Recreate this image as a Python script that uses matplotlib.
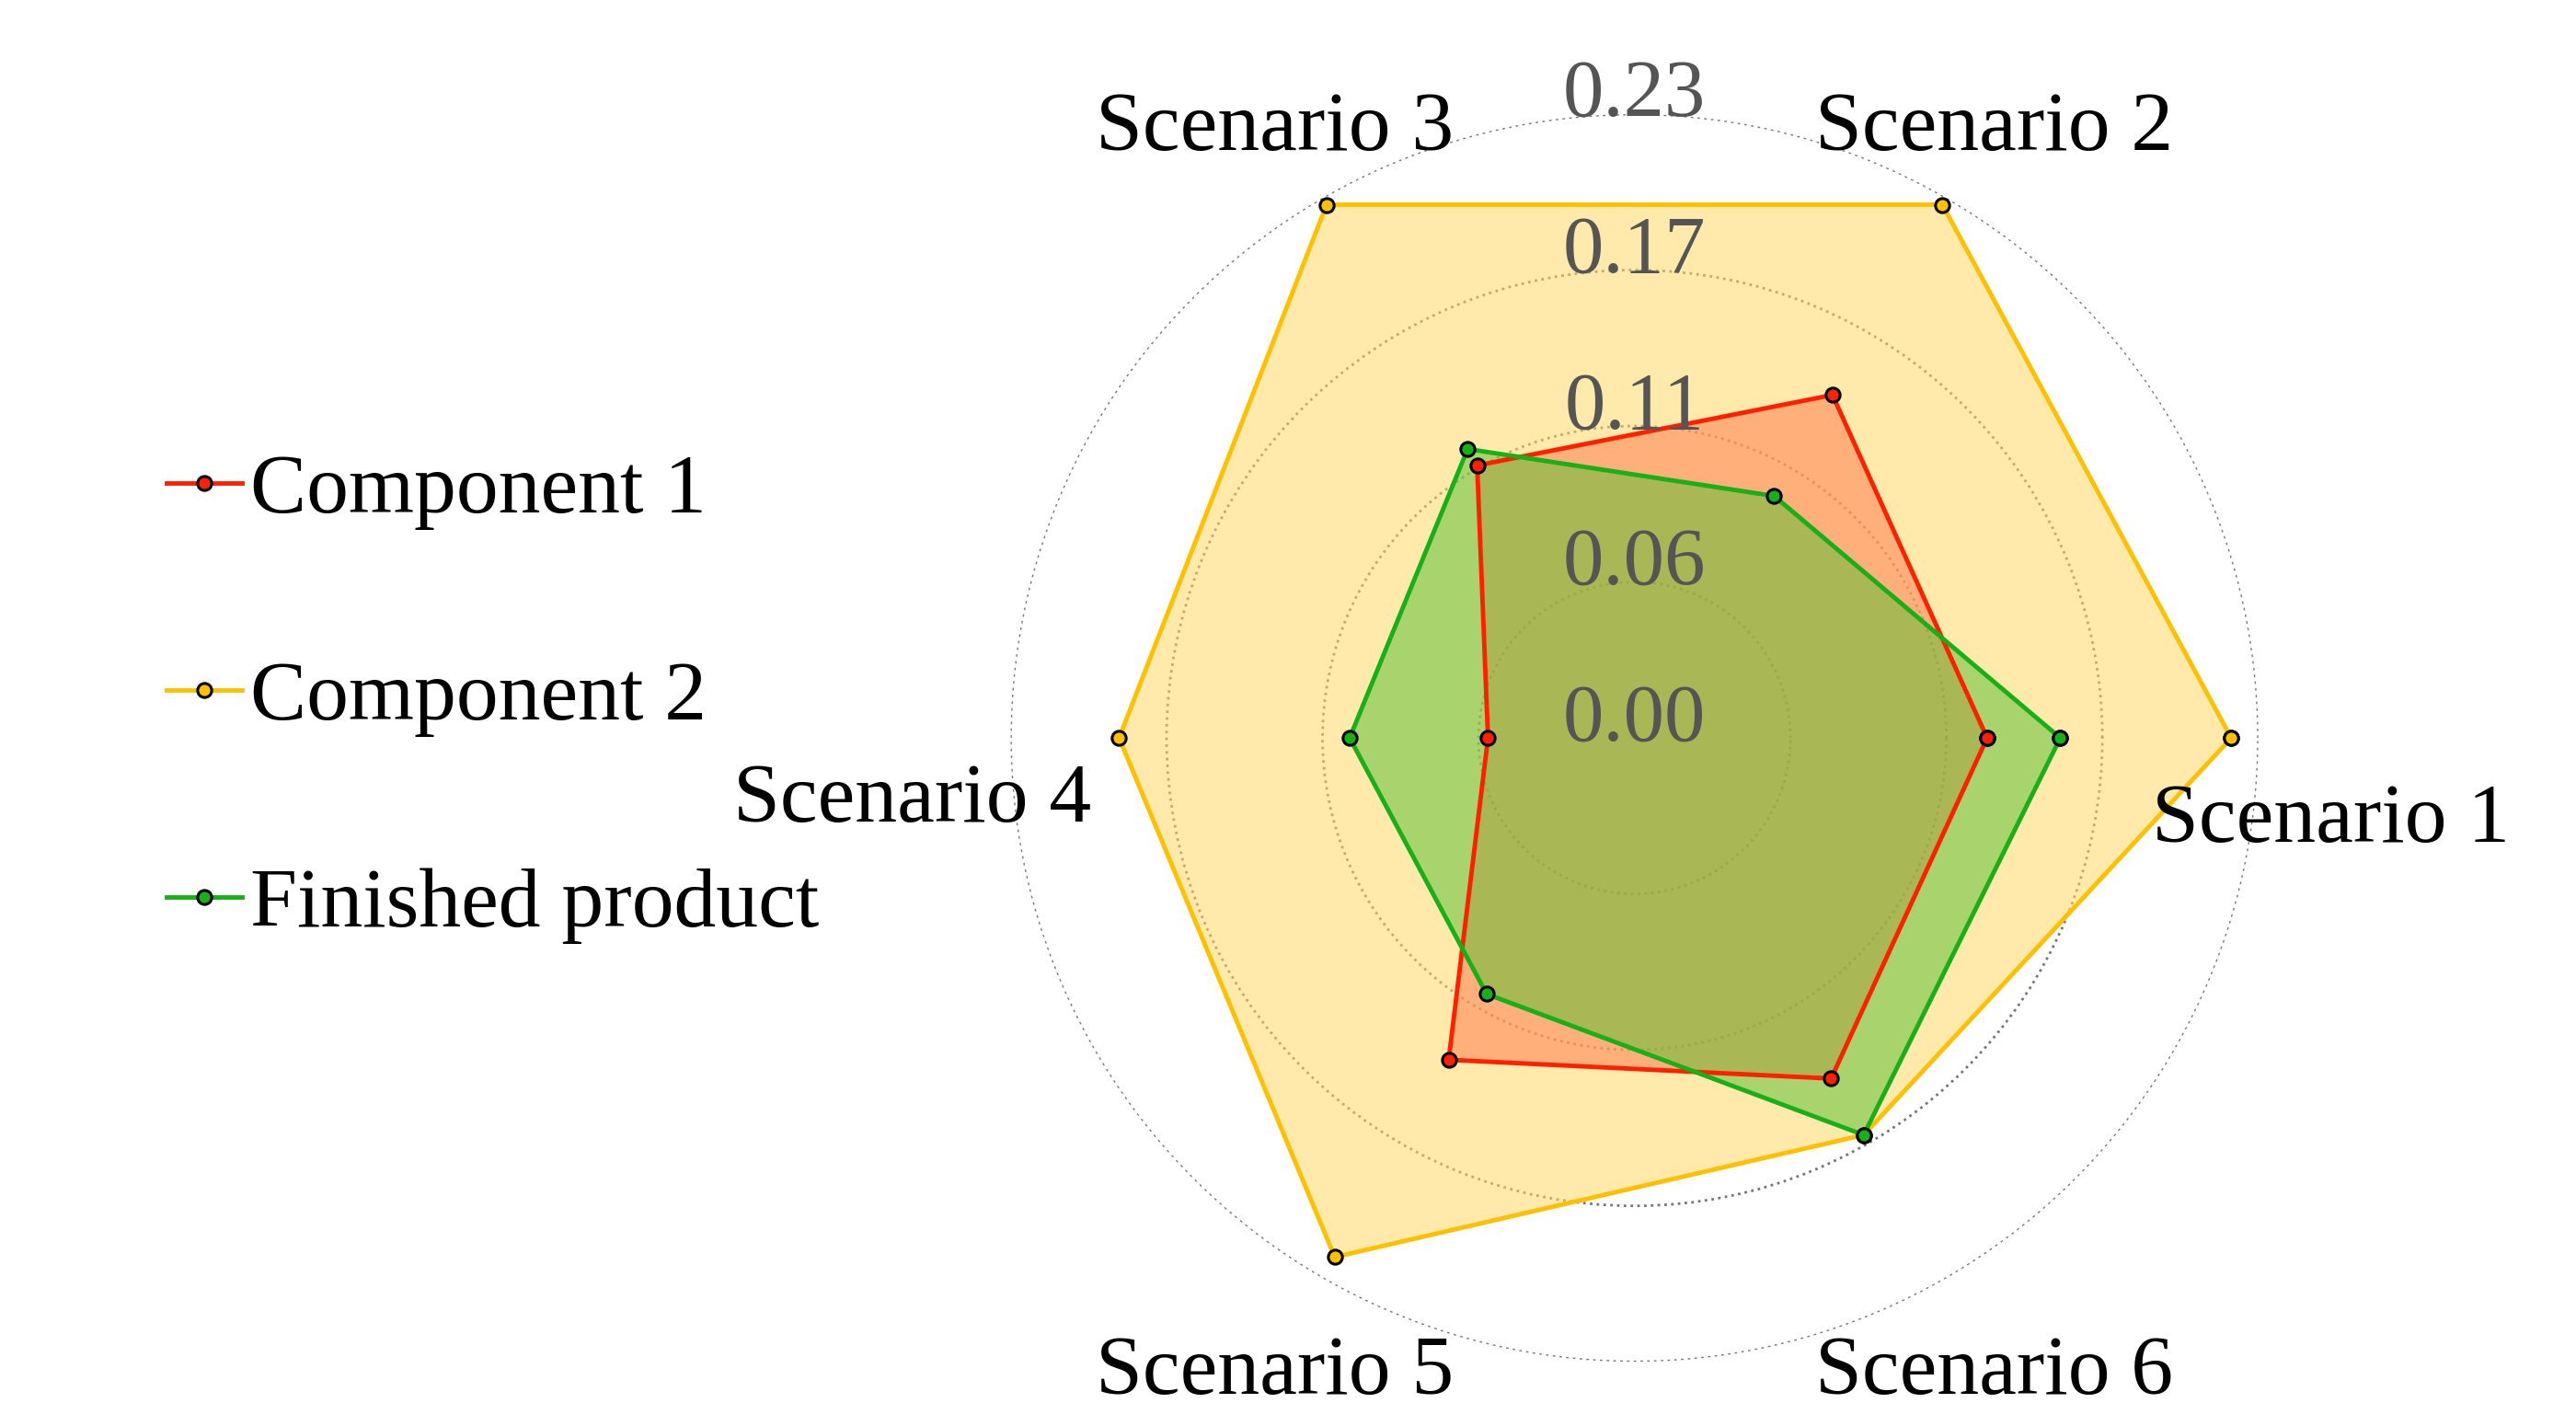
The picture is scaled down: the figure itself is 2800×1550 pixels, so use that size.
import numpy as np
import matplotlib.pyplot as plt

plt.rcParams['font.family'] = ['Liberation Serif', 'DejaVu Serif']

scenarios = ["Scenario 1", "Scenario 2", "Scenario 3", "Scenario 4", "Scenario 5", "Scenario 6"]
comp1 = [0.130, 0.146, 0.116, 0.054, 0.137, 0.145]
comp2 = [0.220, 0.227, 0.227, 0.190, 0.221, 0.169]
finished = [0.157, 0.103, 0.123, 0.105, 0.109, 0.169]
rticks = [0.0, 0.0575, 0.115, 0.1725, 0.23]
rlabels = ["0.00", "0.06", "0.11", "0.17", "0.23"]

# label anchor positions (figure fraction) for scenario names
label_pos = [(0.905, 0.424), (0.774, 0.909), (0.495, 0.909),
             (0.354, 0.438), (0.495, 0.037), (0.774, 0.037)]

angles = np.deg2rad(np.arange(0, 360, 60))
ang = np.append(angles, angles[0])

fig = plt.figure(figsize=(28, 15.5), dpi=100)
ax = fig.add_axes([0.391, 0.045, 0.487, 0.875], projection='polar')

series = [
    ("Component 2", comp2, "#FFC000", "#FFD966", 0.55),
    ("Component 1", comp1, "#FF2000", "#FF7F50", 0.55),
    ("Finished product", finished, "#18B018", "#55C030", 0.5),
]
handles = {}
for name, vals, lc, fc, a in series:
    v = np.append(vals, vals[0])
    ax.fill(ang, v, color=fc, alpha=a, zorder=2)
    h, = ax.plot(ang, v, color=lc, lw=3.5, marker='o', ms=11, mfc=lc,
                 mec='black', mew=2.2, zorder=3)
    handles[name] = h

ax.set_ylim(0, 0.23)
ax.set_yticks(rticks)
ax.set_yticklabels([])
for r, lab in zip(rticks, rlabels):
    ax.annotate(lab, xy=(np.pi / 2, r), xytext=(0, 14), textcoords='offset points',
                ha='center', va='center', fontsize=64, color='#555555', zorder=10)
ax.set_xticks(angles)
ax.set_xticklabels([])
ax.xaxis.grid(False)
ax.yaxis.grid(True, color='#777777', linestyle=':', lw=2)
ax.spines['polar'].set_visible(False)
ax.set_facecolor('none')

for name, (x, y) in zip(scenarios, label_pos):
    fig.text(x, y, name, ha='center', va='center', fontsize=66)

order = ["Component 1", "Component 2", "Finished product"]
fig.legend([handles[k] for k in order], order, loc='center left',
           bbox_to_anchor=(0.035, 0.51), frameon=False, fontsize=66,
           handlelength=0.9, handletextpad=0.1, labelspacing=1.55)

fig.savefig("out.png")
